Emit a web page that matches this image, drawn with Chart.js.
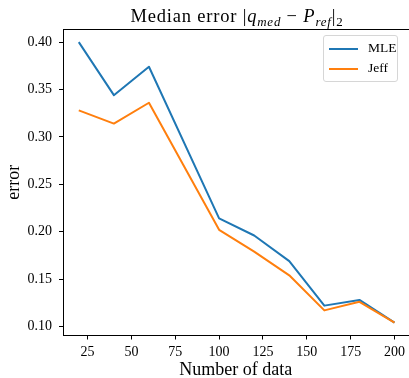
<!DOCTYPE html>
<html>
<head>
<meta charset="utf-8">
<script src="https://cdn.jsdelivr.net/npm/chart.js@4.4.1/dist/chart.umd.min.js"></script>
<style>
    html, body { margin: 0; padding: 0; background: #fff; overflow: hidden; }
    .wrap { position: relative; width: 409px; height: 378px; }
    .titulo {
        position: absolute; left: 63px; width: 348px; top: 7px;
        text-align: center; font-family: "Liberation Serif", serif; font-size: 18.5px;
        letter-spacing: 0.8px; line-height: 18px; color: #000; white-space: nowrap;
    }
    .titulo sub { font-size: 70%; vertical-align: -0.3em; line-height: 0; }
    .legenda {
        position: absolute; left: 323px; top: 35px; width: 73px; height: 45px;
        border: 1px solid #d6d6d6; border-radius: 3px; background: rgba(255,255,255,0.8);
        font-family: "Liberation Serif", serif; font-size: 13.5px; color: #000;
    }
    .legenda__item { position: absolute; left: 5px; height: 14px; }
    .legenda__linha { position: absolute; left: 0; top: 6px; width: 29px; height: 2px; }
    .legenda__texto { position: absolute; left: 39px; top: -2px; }
</style>
</head>
<body>
<div class="wrap">
    <canvas id="chart" width="409" height="378"></canvas>
    <div class="titulo">Median error |<i>q</i><sub><i>med</i></sub> &minus; <i>P</i><sub><i>ref</i></sub>|<sub>2</sub></div>
    <div class="legenda" id="legenda"></div>
</div>
<script>
//Dados
const numData = [20, 40, 60, 100, 120, 140, 160, 180, 200];
const mle = [0.400, 0.344, 0.374, 0.214, 0.196, 0.169, 0.122, 0.128, 0.104];
const jeff = [0.328, 0.314, 0.336, 0.202, 0.179, 0.154, 0.117, 0.126, 0.104];
const xTicks = [25, 50, 75, 100, 125, 150, 175, 200];
const yTicks = [0.10, 0.15, 0.20, 0.25, 0.30, 0.35, 0.40];

const seriesNames = ['MLE', 'Jeff'];
const seriesColors = ['#1f77b4', '#ff7f0e'];

const pontos = (ys) => numData.map((x, i) => ({ x: x, y: ys[i] }));

//Linha de cima do quadro
const topFrame = {
    id: 'topFrame',
    afterDraw(c) {
        const a = c.chartArea;
        const ctx = c.ctx;
        ctx.save();
        ctx.strokeStyle = '#000';
        ctx.lineWidth = 1;
        ctx.beginPath();
        ctx.moveTo(a.left, a.top + 0.5);
        ctx.lineTo(c.width, a.top + 0.5);
        ctx.stroke();
        ctx.restore();
    }
};

const tickFont = { family: 'Liberation Serif', size: 14 };
const titleFont = { family: 'Liberation Serif', size: 18, lineHeight: 1 };

//Gráfico
const chart = document.getElementById('chart').getContext('2d');

const grafico = new Chart(chart, {
    type: 'line',
    data: {
        datasets: [
            {
                label: seriesNames[0],
                data: pontos(mle),
                borderColor: seriesColors[0],
                borderWidth: 2,
                order: 2
            },
            {
                label: seriesNames[1],
                data: pontos(jeff),
                borderColor: seriesColors[1],
                borderWidth: 2,
                order: 1
            }
        ]
    },
    options: {
        responsive: false,
        animation: false,
        events: [],
        layout: { padding: { top: 29, left: 0, right: 0, bottom: 0 } },
        elements: {
            point: { radius: 0 },
            line: { tension: 0, borderJoinStyle: 'round', fill: false }
        },
        plugins: {
            legend: { display: false },
            title: { display: false },
            tooltip: { enabled: false }
        },
        scales: {
            x: {
                type: 'linear',
                min: 11,
                max: 208,
                afterBuildTicks: (s) => { s.ticks = xTicks.map(v => ({ value: v })); },
                afterFit: (s) => { s.height = 42.5; },
                grid: { drawOnChartArea: false, drawTicks: true, tickLength: 4, tickColor: '#000' },
                border: { display: true, color: '#000', width: 1 },
                ticks: { color: '#000', font: tickFont, padding: 4, maxRotation: 0 },
                title: { display: true, text: 'Number of data', color: '#000', font: titleFont, padding: { top: 0, bottom: -1 } }
            },
            y: {
                type: 'linear',
                min: 0.0905,
                max: 0.4138,
                afterBuildTicks: (s) => { s.ticks = yTicks.map(v => ({ value: v })); },
                afterFit: (s) => { s.width = 63; },
                grid: { drawOnChartArea: false, drawTicks: true, tickLength: 4, tickColor: '#000' },
                border: { display: true, color: '#000', width: 1 },
                ticks: { color: '#000', font: tickFont, padding: 7, callback: (v) => v.toFixed(2) },
                title: { display: true, text: 'error', color: '#000', font: titleFont, padding: { top: 5, bottom: 0 } }
            }
        }
    },
    plugins: [topFrame]
});

//Legenda
const legenda = document.getElementById('legenda');
grafico.data.datasets.forEach((ds, i) => {
    const item = document.createElement('div');
    item.className = 'legenda__item';
    item.style.top = (6 + i * 20) + 'px';
    item.innerHTML = '<span class="legenda__linha" style="background:' + ds.borderColor + '"></span>' +
        '<span class="legenda__texto">' + ds.label + '</span>';
    legenda.appendChild(item);
});
</script>
</body>
</html>
